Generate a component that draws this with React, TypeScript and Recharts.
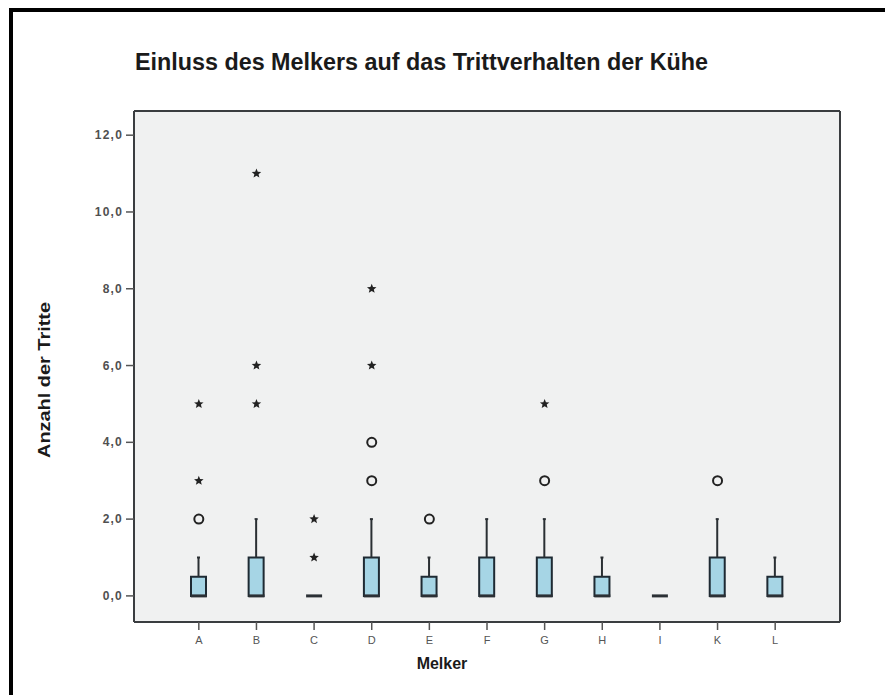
import React from 'react';
import {
  ComposedChart,
  Bar,
  Line,
  XAxis,
  YAxis,
  CartesianGrid,
  ReferenceLine,
  Customized,
} from 'recharts';

// Melker (milkers) on the x axis
const melker = ['A', 'B', 'C', 'D', 'E', 'F', 'G', 'H', 'I', 'K', 'L'];

// Box plot statistics per milker (number of kicks)
const whiskerLow = [0, 0, 0, 0, 0, 0, 0, 0, 0, 0, 0];
const q1 = [0, 0, 0, 0, 0, 0, 0, 0, 0, 0, 0];
const median = [0, 0, 0, 0, 0, 0, 0, 0, 0, 0, 0];
const q3 = [0.5, 1, 0, 1, 0.5, 1, 1, 0.5, 0, 1, 0.5];
const whiskerHigh = [1, 2, 0, 2, 1, 2, 2, 1, 0, 2, 1];

// Outliers (circles) and extreme values (stars)
const circleOutliers: [string, number][] = [
  ['A', 2],
  ['D', 3],
  ['D', 4],
  ['E', 2],
  ['G', 3],
  ['K', 3],
];
const starOutliers: [string, number][] = [
  ['A', 3],
  ['A', 5],
  ['B', 5],
  ['B', 6],
  ['B', 11],
  ['C', 1],
  ['C', 2],
  ['D', 6],
  ['D', 8],
  ['G', 5],
];

const yTicks = [0, 2, 4, 6, 8, 10, 12];
const yDomain: [number, number] = [-0.68, 12.63];

const FONT = "'Liberation Sans', Arial, Helvetica, sans-serif";
const BOX_FILL = '#a6d5e5';
const DARK = '#1e2a33';
const FRAME = '#3a3d40';

const CIRCLE_KEYS = ['circle0', 'circle1'];
const STAR_KEYS = ['star0', 'star1', 'star2'];

const rows = melker.map((name, i) => {
  const row: Record<string, any> = {
    name,
    base: whiskerLow[i],
    lowerWhisker: q1[i] - whiskerLow[i],
    box: q3[i] - q1[i],
    upperWhisker: whiskerHigh[i] - q3[i],
    median: median[i],
  };
  circleOutliers
    .filter(([m]) => m === name)
    .forEach(([, v], k) => {
      row[CIRCLE_KEYS[k]] = v;
    });
  starOutliers
    .filter(([m]) => m === name)
    .forEach(([, v], k) => {
      row[STAR_KEYS[k]] = v;
    });
  return row;
});

const fmt = (v: number) => v.toFixed(1).replace('.', ',');

// vertical whisker line with a tiny cap at the far end
const makeWhisker = (capAtTop: boolean) => (props: any) => {
  const { x, y, width, height } = props;
  if (!height || height <= 0) return <g />;
  const cx = x + width / 2;
  const capY = capAtTop ? y : y + height;
  return (
    <g>
      <line x1={cx} y1={y} x2={cx} y2={y + height} stroke="#2a2f33" strokeWidth={2} />
      <line x1={cx - 1.5} y1={capY} x2={cx + 1.5} y2={capY} stroke="#2a2f33" strokeWidth={2} />
    </g>
  );
};

const medianDot = (props: any) => {
  const { cx, cy, value, index } = props;
  if (value == null || cx == null || cy == null) return <g key={`m-${index}`} />;
  return (
    <line
      key={`m-${index}`}
      x1={cx - 8}
      y1={cy}
      x2={cx + 8}
      y2={cy}
      stroke="#2b3035"
      strokeWidth={3}
    />
  );
};

const circleDot = (props: any) => {
  const { cx, cy, value, index, dataKey } = props;
  if (value == null || cx == null || cy == null || isNaN(cy))
    return <g key={`c-${dataKey}-${index}`} />;
  return (
    <circle
      key={`c-${dataKey}-${index}`}
      cx={cx}
      cy={cy}
      r={4.5}
      fill="none"
      stroke="#222"
      strokeWidth={2}
    />
  );
};

const starPath = (cx: number, cy: number, ro: number, ri: number) => {
  const pts: string[] = [];
  for (let k = 0; k < 10; k++) {
    const r = k % 2 === 0 ? ro : ri;
    const a = -Math.PI / 2 + (k * Math.PI) / 5;
    pts.push(`${(cx + r * Math.cos(a)).toFixed(2)},${(cy + r * Math.sin(a)).toFixed(2)}`);
  }
  return pts.join(' ');
};

const starDot = (props: any) => {
  const { cx, cy, value, index, dataKey } = props;
  if (value == null || cx == null || cy == null || isNaN(cy))
    return <g key={`s-${dataKey}-${index}`} />;
  return (
    <polygon
      key={`s-${dataKey}-${index}`}
      points={starPath(cx, cy, 5, 2.2)}
      fill="#222"
    />
  );
};

const XTick = (props: any) => {
  const { x, y, payload } = props;
  return (
    <text
      x={x}
      y={y + 12}
      textAnchor="middle"
      fill="#555"
      fontSize={11}
      fontFamily={FONT}
    >
      {payload.value}
    </text>
  );
};

const YTick = (props: any) => {
  const { x, y, payload } = props;
  return (
    <text
      x={x - 1}
      y={y + 4}
      textAnchor="end"
      fill="#505050"
      fontSize={12}
      fontWeight="bold"
      letterSpacing={1.2}
      fontFamily={FONT}
    >
      {fmt(payload.value)}
    </text>
  );
};

const Titles = () => (
  <g fontFamily={FONT}>
    <text
      x={135}
      y={70}
      fontSize={23}
      fontWeight="bold"
      fill="#1a1a1a"
      textLength={573}
      lengthAdjust="spacingAndGlyphs"
    >
      Einluss des Melkers auf das Trittverhalten der Kühe
    </text>
    <text
      x={50}
      y={380}
      fontSize={17}
      fontWeight="bold"
      fill="#1a1a1a"
      textAnchor="middle"
      textLength={156}
      lengthAdjust="spacingAndGlyphs"
      transform="rotate(-90 50 380)"
    >
      Anzahl der Tritte
    </text>
    <text x={442} y={669} fontSize={16} fontWeight="bold" fill="#1a1a1a" textAnchor="middle">
      Melker
    </text>
  </g>
);

export default function App() {
  return (
    <div
      style={{
        position: 'absolute',
        left: 0,
        top: 0,
        width: 885,
        height: 695,
        overflow: 'hidden',
        background: '#fff',
      }}
    >
      <div
        style={{
          position: 'absolute',
          left: 9,
          top: 8,
          width: 900,
          height: 720,
          borderLeft: '4px solid #000',
          borderTop: '4px solid #000',
        }}
      />
      <div style={{ position: 'absolute', left: 0, top: 0 }}>
        <ComposedChart
          width={885}
          height={695}
          data={rows}
          margin={{ top: 111, right: 44, bottom: 0, left: 0 }}
        >
          <CartesianGrid horizontal={false} vertical={false} fill="#f0f1f1" />
          <XAxis
            dataKey="name"
            type="category"
            height={73}
            padding={{ left: 36, right: 36 }}
            axisLine={{ stroke: FRAME, strokeWidth: 2 }}
            tickLine={{ stroke: '#555', strokeWidth: 1.5 }}
            tickSize={8}
            tick={<XTick />}
            interval={0}
          />
          <YAxis
            type="number"
            domain={yDomain}
            ticks={yTicks}
            width={134}
            axisLine={{ stroke: FRAME, strokeWidth: 2 }}
            tickLine={{ stroke: '#555', strokeWidth: 1.5 }}
            tickSize={8}
            tick={<YTick />}
            allowDataOverflow
          />
          <YAxis
            yAxisId="right"
            orientation="right"
            type="number"
            domain={yDomain}
            width={1}
            tick={false}
            tickLine={false}
            axisLine={{ stroke: FRAME, strokeWidth: 2 }}
            allowDataOverflow
          />
          <ReferenceLine y={yDomain[1]} stroke={FRAME} strokeWidth={2} ifOverflow="visible" />
          <Bar dataKey="base" stackId="bp" fill="transparent" barSize={15} isAnimationActive={false} />
          <Bar
            dataKey="lowerWhisker"
            stackId="bp"
            barSize={15}
            shape={makeWhisker(false)}
            isAnimationActive={false}
          />
          <Bar
            dataKey="box"
            stackId="bp"
            barSize={15}
            fill={BOX_FILL}
            stroke={DARK}
            strokeWidth={2}
            isAnimationActive={false}
          />
          <Bar
            dataKey="upperWhisker"
            stackId="bp"
            barSize={15}
            shape={makeWhisker(true)}
            isAnimationActive={false}
          />
          <Line
            dataKey="median"
            stroke="none"
            dot={medianDot}
            activeDot={false}
            isAnimationActive={false}
          />
          {CIRCLE_KEYS.map((k) => (
            <Line
              key={k}
              dataKey={k}
              stroke="none"
              dot={circleDot}
              activeDot={false}
              isAnimationActive={false}
            />
          ))}
          {STAR_KEYS.map((k) => (
            <Line
              key={k}
              dataKey={k}
              stroke="none"
              dot={starDot}
              activeDot={false}
              isAnimationActive={false}
            />
          ))}
          <Customized component={Titles} />
        </ComposedChart>
      </div>
    </div>
  );
}
